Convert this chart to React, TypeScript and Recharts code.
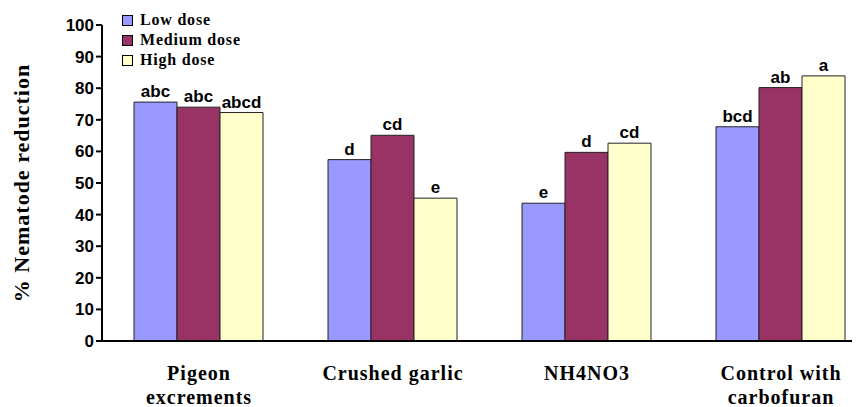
import { BarChart, Bar, XAxis, YAxis, Legend, LabelList } from "recharts";

const categories = ["Pigeon\nexcrements", "Crushed garlic", "NH4NO3", "Control with\ncarbofuran"];
const lowDose = [75.6, 57.4, 43.6, 67.8];
const mediumDose = [74.0, 65.1, 59.7, 80.2];
const highDose = [72.3, 45.2, 62.6, 83.9];
const lowLetters = ["abc", "d", "e", "bcd"];
const mediumLetters = ["abc", "cd", "d", "ab"];
const highLetters = ["abcd", "e", "cd", "a"];
const yTicks = [0, 10, 20, 30, 40, 50, 60, 70, 80, 90, 100];
const boundaryTicks = [0, 1, 2, 3, 4];

const data = categories.map((name, i) => ({
  name,
  low: lowDose[i],
  medium: mediumDose[i],
  high: highDose[i],
  lowL: lowLetters[i],
  mediumL: mediumLetters[i],
  highL: highLetters[i],
}));

const series = [
  { key: "low", label: "Low dose", color: "#9999FF", letters: "lowL" },
  { key: "medium", label: "Medium dose", color: "#993366", letters: "mediumL" },
  { key: "high", label: "High dose", color: "#FFFFCC", letters: "highL" },
];

const serif = "'Liberation Serif', 'Times New Roman', serif";
const sans = "'Liberation Sans', Arial, sans-serif";

function CategoryTick({ x, y, payload }: any) {
  const lines = String(payload.value).split("\n");
  return (
    <text
      x={x}
      y={y + 31}
      textAnchor="middle"
      fontFamily={serif}
      fontWeight="bold"
      fontSize={20}
      letterSpacing={1}
      fill="#000"
    >
      {lines.map((l, i) => (
        <tspan key={i} x={x} dy={i === 0 ? 0 : 24}>
          {l}
        </tspan>
      ))}
    </text>
  );
}

function LegendBox() {
  return (
    <div
      style={{
        fontFamily: serif,
        fontWeight: "bold",
        fontSize: 16,
        letterSpacing: 0.8,
        lineHeight: "20px",
        textAlign: "left",
      }}
    >
      {series.map((s) => (
        <div key={s.key} style={{ display: "flex", alignItems: "center" }}>
          <span
            style={{
              display: "inline-block",
              width: 9,
              height: 9,
              background: s.color,
              border: "1px solid #000",
              marginRight: 7,
            }}
          />
          <span>{s.label}</span>
        </div>
      ))}
    </div>
  );
}

export default function App() {
  return (
    <div style={{ width: 852, height: 399, overflow: "hidden" }}>
      <BarChart
        width={870}
        height={399}
        data={data}
        margin={{ top: 17, right: 0, left: 0, bottom: 0 }}
        barCategoryGap={32}
        barGap={0}
      >
        <XAxis
          xAxisId="b"
          type="number"
          domain={[0, 4]}
          ticks={boundaryTicks}
          tick={false}
          tickLine={{ stroke: "#000", strokeWidth: 2 }}
          tickSize={6}
          axisLine={false}
          height={0}
        />
        <XAxis
          dataKey="name"
          tick={<CategoryTick />}
          tickLine={false}
          axisLine={{ stroke: "#000", strokeWidth: 2 }}
          interval={0}
          height={66}
        />
        <YAxis
          domain={[0, 100]}
          ticks={yTicks}
          width={94}
          tickSize={6}
          tickLine={{ stroke: "#000", strokeWidth: 2 }}
          axisLine={{ stroke: "#000", strokeWidth: 2 }}
          tick={{ fill: "#000", fontFamily: sans, fontWeight: "bold", fontSize: 17 }}
          label={{
            value: "% Nematode reduction",
            angle: -90,
            position: "insideLeft",
            offset: 13,
            style: {
              textAnchor: "middle",
              fontFamily: serif,
              fontWeight: "bold",
              fontSize: 22,
              letterSpacing: 1,
              fill: "#000",
            },
          }}
        />
        <Legend
          content={<LegendBox />}
          layout="horizontal"
          verticalAlign="middle"
          align="center"
          wrapperStyle={{ position: "absolute", left: 114, top: 2, width: 200 }}
        />
        {series.map((s) => (
          <Bar
            key={s.key}
            dataKey={s.key}
            name={s.label}
            fill={s.color}
            stroke="#222"
            strokeWidth={1}
            isAnimationActive={false}
          >
            <LabelList
              dataKey={s.letters}
              position="top"
              offset={5}
              style={{ fontFamily: sans, fontWeight: "bold", fontSize: 17, fill: "#000" }}
            />
          </Bar>
        ))}
      </BarChart>
    </div>
  );
}
